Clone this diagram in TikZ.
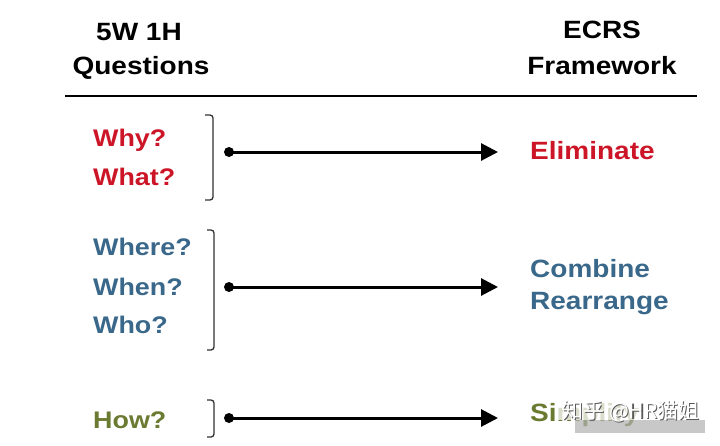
\documentclass[tikz,border=0pt]{standalone}
\usepackage{fontspec}
\setmainfont{Liberation Sans}[FakeStretch=1.12]
\newfontfamily\cjkfont{Noto Sans CJK SC}
\usetikzlibrary{arrows.meta}
\definecolor{qred}{RGB}{204,22,40}
\definecolor{qblue}{RGB}{58,104,138}
\definecolor{qgreen}{RGB}{106,122,48}
\definecolor{brk}{RGB}{50,50,50}
\newcommand{\wmtext}{知乎 @HR猫姐}
\tikzset{
  hdr/.style={font=\fontsize{25}{30}\selectfont\bfseries, text=black, inner sep=0pt, anchor=base},
  qlab/.style={font=\fontsize{24}{28}\selectfont\bfseries, inner sep=0pt, anchor=base west},
  rlab/.style={font=\fontsize{25}{30}\selectfont\bfseries, inner sep=0pt, anchor=base west},
  dotnode/.style={circle, fill=black, inner sep=0pt, minimum size=10pt},
  conn/.style={line width=3pt, -{Triangle[length=17pt,width=17pt]}},
  bracketline/.style={line width=1.3pt, draw=brk, rounded corners=3pt},
}
\begin{document}
\begin{tikzpicture}[x=1pt,y=-1pt]
\useasboundingbox[fill=white] (0,0) rectangle (720,445);
% headers
\node[hdr] (h1) at (139,40) {5W 1H};
\node[hdr] (h2) at (141,74) {Questions};
\node[hdr] (h3) at (602,38) {ECRS};
\node[hdr] (h4) at (602,74) {Framework};
\coordinate (rl) at (65,96);
\coordinate (rr) at (697,96);
\draw[line width=2pt] (rl) -- (rr);
% question labels
\node[qlab, text=qred] (why) at (93,146) {Why?};
\node[qlab, text=qred] (what) at (93,185) {What?};
\node[qlab, text=qblue] (where) at (93,255) {Where?};
\node[qlab, text=qblue] (when) at (93,295) {When?};
\node[qlab, text=qblue] (who) at (93,333) {Who?};
\node[qlab, text=qgreen] (how) at (93,428) {How?};
% brackets
\draw[bracketline] (205,115) -- (213,115) -- (213,200) -- (205,200);
\draw[bracketline] (207,230) -- (214,230) -- (214,350) -- (207,350);
\draw[bracketline] (207,400) -- (214,400) -- (214,437) -- (207,437);
% right labels
\node[rlab, text=qred] (elim) at (530,159) {Eliminate};
\node[rlab, text=qblue] (comb) at (530,277) {Combine};
\node[rlab, text=qblue] (rear) at (530,309) {Rearrange};
\node[rlab, text=qgreen] (simp) at (530,421) {Simplify};
% connectors
\node[dotnode] (d1) at (229,152) {};
\coordinate (t1) at (498,152);
\draw[conn] (d1.center) -- (t1);
\node[dotnode] (d2) at (229,287) {};
\coordinate (t2) at (498,287);
\draw[conn] (d2.center) -- (t2);
\node[dotnode] (d3) at (229,418) {};
\coordinate (t3) at (498,418);
\draw[conn] (d3.center) -- (t3);
% watermark
\fill[white, opacity=0.75] (558,400) rectangle (706,420);
\fill[black!30, opacity=0.7] (575,420) rectangle (705,433);
\node[font=\cjkfont\fontsize{21}{24}\selectfont, text=white, inner sep=0pt] (wm) at (631,412)
  {\makebox[0pt][l]{\hspace{1.2pt}\raisebox{-1.2pt}{\textcolor{black!65}{\wmtext}}}\wmtext};
\end{tikzpicture}
\end{document}
